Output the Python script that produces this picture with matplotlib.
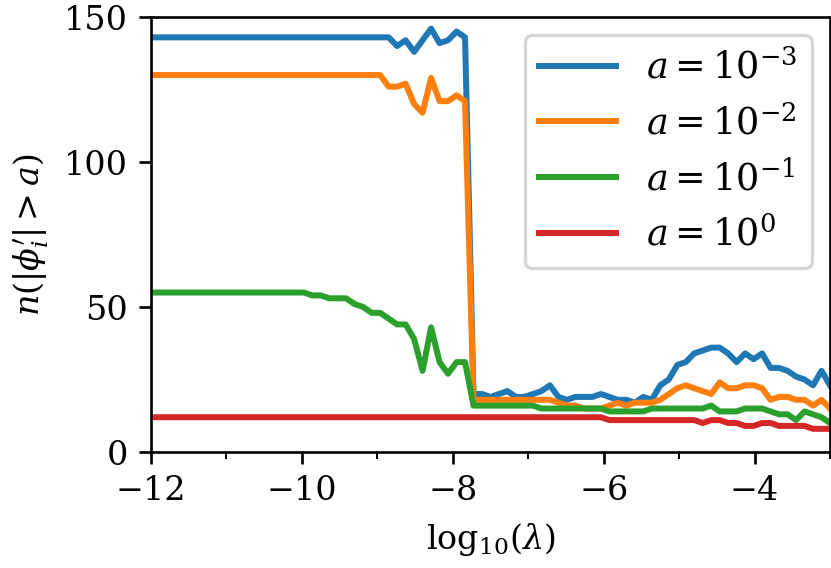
import numpy as np
import matplotlib
matplotlib.use("Agg")
import matplotlib.pyplot as plt
from matplotlib.ticker import MultipleLocator

plt.rcParams['font.family'] = ['DejaVu Serif']
plt.rcParams['mathtext.fontset'] = 'dejavuserif'
plt.rcParams['font.size'] = 10

# log10(lambda) grid, 81 samples from -12 to -3
log_lam = np.linspace(-12, -3, 81)

n_1e3 = [143, 143, 143, 143, 143, 143, 143, 143, 143, 143,
         143, 143, 143, 143, 143, 143, 143, 143, 143, 143,
         143, 143, 143, 143, 143, 143, 143, 143,
         143, 140, 142, 138, 142, 146, 141, 142, 145, 143,
         20, 20, 19, 20, 21, 19, 19, 20, 21, 23,
         19, 18, 19, 19, 19, 20, 19, 18, 18, 17,
         19, 18, 23, 25, 30, 31, 34, 35, 36, 36,
         34, 31, 34, 32, 34, 29, 29, 28, 26, 25,
         23, 28, 23]

n_1e2 = [130, 130, 130, 130, 130, 130, 130, 130, 130, 130,
         130, 130, 130, 130, 130, 130, 130, 130, 130, 130,
         130, 130, 130, 130, 130, 130, 130, 130,
         126, 126, 127, 120, 117, 129, 121, 121, 123, 121,
         18, 18, 18, 18, 18, 18, 18, 18, 18, 18,
         17, 16, 16, 15, 15, 15, 16, 17, 16, 17,
         17, 17,
         18, 20, 22, 23, 22, 21, 20, 24, 22, 22,
         23, 23, 22, 18, 19, 19, 18, 18, 16, 18,
         15]

n_1e1 = [55, 55, 55, 55, 55, 55, 55, 55, 55, 55,
         55, 55, 55, 55, 55, 55, 55, 55, 55,
         54, 54, 53, 53, 53, 51, 50, 48, 48, 46,
         44, 44, 39, 28, 43, 31, 27, 31, 31,
         16, 16, 16, 16, 16, 16, 16, 16,
         15, 15, 15, 15, 15, 15, 15, 15,
         14, 14, 14, 14, 14,
         15, 15, 15, 15, 15, 15, 15,
         16, 14, 14, 14, 15, 15, 15,
         14, 13, 13, 11, 14, 13, 12, 10]

n_1e0 = [12, 12, 12, 12, 12, 12, 12, 12, 12, 12,
         12, 12, 12, 12, 12, 12, 12, 12, 12, 12,
         12, 12, 12, 12, 12, 12, 12, 12, 12, 12,
         12, 12, 12, 12, 12, 12, 12, 12, 12, 12,
         12, 12, 12, 12, 12, 12, 12, 12, 12, 12,
         12, 12, 12, 12,
         11, 11, 11, 11, 11, 11, 11, 11, 11, 11, 11,
         10, 11, 11, 10, 10, 9, 9, 10, 10,
         9, 9, 9, 9, 8, 8, 8]

labels = [r'$a = 10^{-3}$', r'$a = 10^{-2}$', r'$a = 10^{-1}$', r'$a = 10^{0}$']

fig = plt.figure(figsize=(831 / 240, 568 / 240), dpi=240)
ax = fig.add_axes([0.1817, 0.2042, 0.8171, 0.7658])

for vals, lab in zip([n_1e3, n_1e2, n_1e1, n_1e0], labels):
    ax.plot(log_lam, vals, label=lab, lw=1.8)

ax.set_xlim(-12, -3)
ax.set_ylim(0, 150)
ax.set_xticks([-12, -10, -8, -6, -4])
ax.set_yticks([0, 50, 100, 150])
ax.xaxis.set_minor_locator(MultipleLocator(1))
ax.set_xlabel(r'$\mathrm{log}_{10}(\lambda)$')
ax.set_ylabel(r"$n(|\phi_i'| > a)$")
ax.legend(loc='upper right', fontsize=11, handlelength=2.1)

fig.savefig("out.png", dpi=240)
